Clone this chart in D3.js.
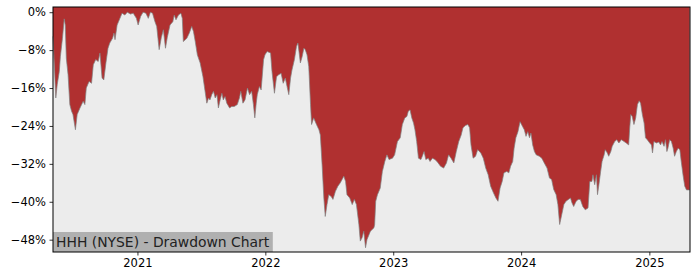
<!DOCTYPE html>
<html>
<head>
<meta charset="utf-8">
<script src="https://cdn.jsdelivr.net/npm/d3@7"></script>
<style>
html,body{margin:0;padding:0;background:#fff;}
svg{display:block;font-family:"DejaVu Sans",sans-serif;}
</style>
</head>
<body>
<div id="chart"></div>
<script>
const title = "HHH (NYSE) - Drawdown Chart";
const dates = [
"2020-05-05","2020-05-13","2020-05-17","2020-05-23","2020-05-26","2020-06-01","2020-06-06","2020-06-09","2020-06-12","2020-06-17",
"2020-06-22","2020-06-27","2020-07-01","2020-07-08","2020-07-13","2020-07-21","2020-07-30","2020-08-04","2020-08-08","2020-08-16",
"2020-08-23","2020-08-28","2020-09-04","2020-09-11","2020-09-16","2020-09-22","2020-09-27","2020-10-03","2020-10-09","2020-10-14",
"2020-10-22","2020-10-26","2020-10-29","2020-11-04","2020-11-12","2020-11-18","2020-11-26","2020-12-03","2020-12-12","2020-12-20",
"2020-12-29","2021-01-03","2021-01-10","2021-01-17","2021-01-25","2021-02-01","2021-02-07","2021-02-13","2021-02-20","2021-02-25",
"2021-03-04","2021-03-10","2021-03-16","2021-03-22","2021-03-27","2021-04-04","2021-04-12","2021-04-16","2021-04-21","2021-04-28",
"2021-05-05","2021-05-09","2021-05-12","2021-05-22","2021-05-29","2021-06-05","2021-06-10","2021-06-15","2021-06-21","2021-06-29",
"2021-07-07","2021-07-13","2021-07-18","2021-07-23","2021-07-27","2021-08-01","2021-08-06","2021-08-11","2021-08-16","2021-08-20",
"2021-08-25","2021-08-30","2021-09-03","2021-09-08","2021-09-13","2021-09-21","2021-09-27","2021-10-04","2021-10-13","2021-10-19",
"2021-10-23","2021-10-29","2021-11-04","2021-11-11","2021-11-17","2021-11-23","2021-11-28","2021-12-02","2021-12-06","2021-12-09",
"2021-12-15","2021-12-20","2021-12-27","2021-12-31","2022-01-06","2022-01-16","2022-01-20","2022-01-27","2022-02-02","2022-02-08",
"2022-02-15","2022-02-21","2022-02-27","2022-03-04","2022-03-09","2022-03-14","2022-03-18","2022-03-25","2022-03-31","2022-04-04",
"2022-04-07","2022-04-11","2022-04-16","2022-04-21","2022-04-25","2022-04-30","2022-05-05","2022-05-10","2022-05-13","2022-05-19",
"2022-05-27","2022-06-03","2022-06-07","2022-06-12","2022-06-17","2022-06-21","2022-06-26","2022-07-01","2022-07-08","2022-07-13",
"2022-07-20","2022-07-27","2022-08-03","2022-08-13","2022-08-18","2022-08-22","2022-08-30","2022-09-06","2022-09-12","2022-09-18",
"2022-09-25","2022-09-29","2022-10-04","2022-10-09","2022-10-14","2022-10-18","2022-10-28","2022-11-07","2022-11-09","2022-11-12",
"2022-11-17","2022-11-25","2022-12-01","2022-12-08","2022-12-14","2022-12-20","2022-12-30","2023-01-05","2023-01-13","2023-01-21",
"2023-01-27","2023-02-03","2023-02-09","2023-02-13","2023-02-18","2023-02-23","2023-02-28","2023-03-04","2023-03-09","2023-03-14",
"2023-03-21","2023-03-25","2023-03-30","2023-04-04","2023-04-11","2023-04-16","2023-04-23","2023-04-30","2023-05-06","2023-05-16",
"2023-05-25","2023-06-02","2023-06-08","2023-06-15","2023-06-23","2023-06-30","2023-07-07","2023-07-14","2023-07-19","2023-07-26",
"2023-08-02","2023-08-07","2023-08-11","2023-08-17","2023-08-24","2023-08-30","2023-09-08","2023-09-15","2023-09-22","2023-09-29",
"2023-10-06","2023-10-14","2023-10-21","2023-10-27","2023-11-02","2023-11-08","2023-11-13","2023-11-21","2023-11-27","2023-12-02",
"2023-12-08","2023-12-12","2023-12-17","2023-12-23","2023-12-29","2024-01-05","2024-01-10","2024-01-15","2024-01-20","2024-01-25",
"2024-01-29","2024-02-03","2024-02-08","2024-02-13","2024-02-22","2024-02-29","2024-03-07","2024-03-15","2024-03-22","2024-03-28",
"2024-04-03","2024-04-10","2024-04-15","2024-04-20","2024-04-26","2024-05-02","2024-05-08","2024-05-15","2024-05-21","2024-05-25",
"2024-05-30","2024-06-06","2024-06-12","2024-06-18","2024-06-25","2024-07-02","2024-07-10","2024-07-15","2024-07-21","2024-07-24",
"2024-07-29","2024-08-03","2024-08-06","2024-08-10","2024-08-15","2024-08-19","2024-08-25","2024-08-28","2024-09-03","2024-09-07",
"2024-09-13","2024-09-17","2024-09-24","2024-09-30","2024-10-06","2024-10-13","2024-10-21","2024-10-27","2024-11-03","2024-11-06",
"2024-11-09","2024-11-13","2024-11-18","2024-11-23","2024-11-28","2024-12-03","2024-12-07","2024-12-12","2024-12-17","2024-12-21",
"2024-12-26","2025-01-02","2025-01-07","2025-01-10","2025-01-14","2025-01-21","2025-01-28","2025-02-02","2025-02-06","2025-02-12",
"2025-02-16","2025-02-20","2025-02-23","2025-02-28","2025-03-05","2025-03-10","2025-03-14","2025-03-19","2025-03-24","2025-03-29",
"2025-04-02","2025-04-07","2025-04-12","2025-04-17","2025-04-23","2025-04-26"
];
const drawdown = [
-5.1,-18.1,-15.3,-12.5,-9.4,-5.5,-1.4,-2.7,-9.7,-13.2,
-19.5,-20.9,-21.6,-24.8,-21.6,-20.2,-18.8,-19.5,-16.0,-14.6,
-15.0,-11.1,-10.0,-10.4,-8.6,-13.9,-14.3,-10.7,-7.6,-6.5,
-5.5,-4.4,-5.8,-2.7,-1.3,-0.2,-0.6,0,-0.4,-0.2,
-1.3,-2.7,-0.9,0,-0.2,-1.3,0,-0.2,-2.0,-3.0,
-7.9,-5.4,-3.7,-7.6,-5.4,-2.7,-2.0,-0.6,-1.6,-0.6,
-0.2,-1.3,-6.2,-5.5,-4.4,-3.0,-4.1,-6.2,-9.0,-10.7,
-13.6,-16.7,-19.2,-18.1,-18.5,-17.4,-16.7,-18.1,-17.4,-20.2,
-18.5,-17.1,-18.5,-17.8,-19.2,-20.2,-19.9,-19.9,-19.5,-18.1,
-16.7,-19.2,-18.5,-16.0,-17.4,-16.7,-19.5,-22.3,-19.2,-17.4,
-15.7,-16.4,-10.0,-9.0,-8.3,-8.6,-12.5,-17.1,-13.6,-13.2,
-12.9,-15.0,-13.9,-15.7,-17.4,-13.9,-12.2,-10.0,-7.2,-6.5,
-8.3,-10.7,-9.4,-7.6,-7.9,-9.0,-11.5,-19.5,-23.7,-22.3,
-23.7,-24.8,-25.9,-32.2,-39.2,-43.1,-40.6,-38.5,-38.9,-39.5,
-37.8,-36.7,-36.0,-34.6,-35.7,-38.5,-39.2,-40.6,-39.5,-40.6,
-44.8,-48.3,-47.6,-46.2,-49.7,-48.0,-46.2,-45.5,-44.8,-39.9,
-38.5,-37.1,-33.6,-31.5,-30.1,-31.1,-30.8,-30.1,-27.3,-26.5,
-23.7,-22.3,-22.0,-20.9,-20.6,-22.3,-23.4,-24.8,-27.3,-30.8,
-31.1,-30.4,-29.4,-31.1,-30.8,-31.5,-30.8,-31.1,-31.5,-32.5,
-32.9,-31.8,-30.1,-30.8,-31.8,-29.4,-27.3,-25.9,-24.4,-23.9,
-23.7,-24.4,-28.0,-30.8,-30.4,-29.0,-29.7,-30.8,-32.9,-34.3,
-36.7,-38.1,-39.2,-39.9,-37.1,-35.7,-33.9,-33.6,-33.9,-32.5,
-31.5,-28.7,-26.5,-25.2,-23.1,-24.1,-24.8,-26.2,-25.2,-26.5,
-25.5,-28.0,-29.4,-30.1,-30.4,-30.8,-31.8,-32.9,-35.0,-35.3,
-37.4,-38.5,-40.6,-44.8,-42.7,-40.6,-39.9,-39.5,-39.2,-40.2,
-41.0,-39.9,-39.5,-39.5,-41.0,-41.7,-41.3,-35.7,-35.7,-34.3,
-36.4,-34.3,-38.5,-36.4,-33.6,-31.5,-30.1,-29.0,-29.7,-30.4,
-29.4,-28.3,-27.3,-26.9,-27.6,-26.9,-27.3,-27.6,-28.0,-24.4,
-21.6,-22.0,-23.7,-22.3,-19.5,-18.7,-19.2,-21.6,-23.4,-26.5,
-26.9,-27.6,-28.0,-29.7,-27.3,-27.6,-27.4,-28.0,-27.3,-28.3,
-26.9,-29.4,-28.7,-26.9,-27.3,-28.7,-30.4,-29.4,-28.7,-29.0,
-31.5,-34.3,-36.7,-37.5,-37.5,-37.5
];
const yTicks = [0,-8,-16,-24,-32,-40,-48];
const xTickYears = [2021,2022,2023,2024,2025];

const W = 700, H = 280;
const m = {left:53, right:10, top:7, bottom:28};
const parse = d3.timeParse("%Y-%m-%d");
const data = dates.map((d,i)=>({date:parse(d), v:drawdown[i]}));

const svg = d3.select("#chart").append("svg").attr("width",W).attr("height",H);

const x = d3.scaleTime()
  .domain([parse("2020-05-05"), parse("2025-04-27")])
  .range([m.left, W - m.right]);
const y = d3.scaleLinear()
  .domain([-50.6, 1.1])
  .range([H - m.bottom, m.top]);

// background
svg.append("rect").attr("x",m.left).attr("y",m.top)
  .attr("width",W-m.right-m.left).attr("height",H-m.bottom-m.top)
  .attr("fill","#ececec");

const area = d3.area()
  .x(d=>x(d.date))
  .y0(m.top)
  .y1(d=>y(d.v));
svg.append("path").datum(data).attr("d",area).attr("fill","#b03030");

const line = d3.line().x(d=>x(d.date)).y(d=>y(d.v));
svg.append("path").datum(data).attr("d",line)
  .attr("fill","none").attr("stroke","#808080").attr("stroke-width",1).attr("stroke-opacity",0.7);

// title box
const tg = svg.append("g");
const tt = tg.append("text").attr("x",m.left+3).attr("y",H-m.bottom-5)
  .attr("font-size",13.9).attr("fill","#222").text(title);
const bb = tt.node().getBBox();
tg.insert("rect","text").attr("x",m.left).attr("y",H-m.bottom-20)
  .attr("width",bb.width+6).attr("height",20).attr("fill","#b0b0b0");

// axes
const fmt = v => (v<0?"\u2212":"") + Math.abs(v) + "%";
const yAxis = d3.axisLeft(y).tickValues(yTicks).tickFormat(fmt).tickSize(3.5).tickPadding(3.5);
const gy = svg.append("g").attr("transform",`translate(${m.left},0)`).call(yAxis);
const xAxis = d3.axisBottom(x).tickValues(xTickYears.map(yr=>new Date(yr,0,1)))
  .tickFormat(d3.timeFormat("%Y")).tickSize(3.5).tickPadding(3.5);
const gx = svg.append("g").attr("transform",`translate(0,${H-m.bottom})`).call(xAxis);
[gx,gy].forEach(g=>{
  g.select(".domain").remove();
  g.selectAll("text").attr("font-size",11.5).attr("fill","#000").attr("font-family","DejaVu Sans");
  g.selectAll("line").attr("stroke","#000").attr("stroke-width",0.8);
});

// frame
svg.append("rect").attr("x",m.left).attr("y",m.top)
  .attr("width",W-m.right-m.left).attr("height",H-m.bottom-m.top)
  .attr("fill","none").attr("stroke","#000").attr("stroke-width",1);
</script>
</body>
</html>
